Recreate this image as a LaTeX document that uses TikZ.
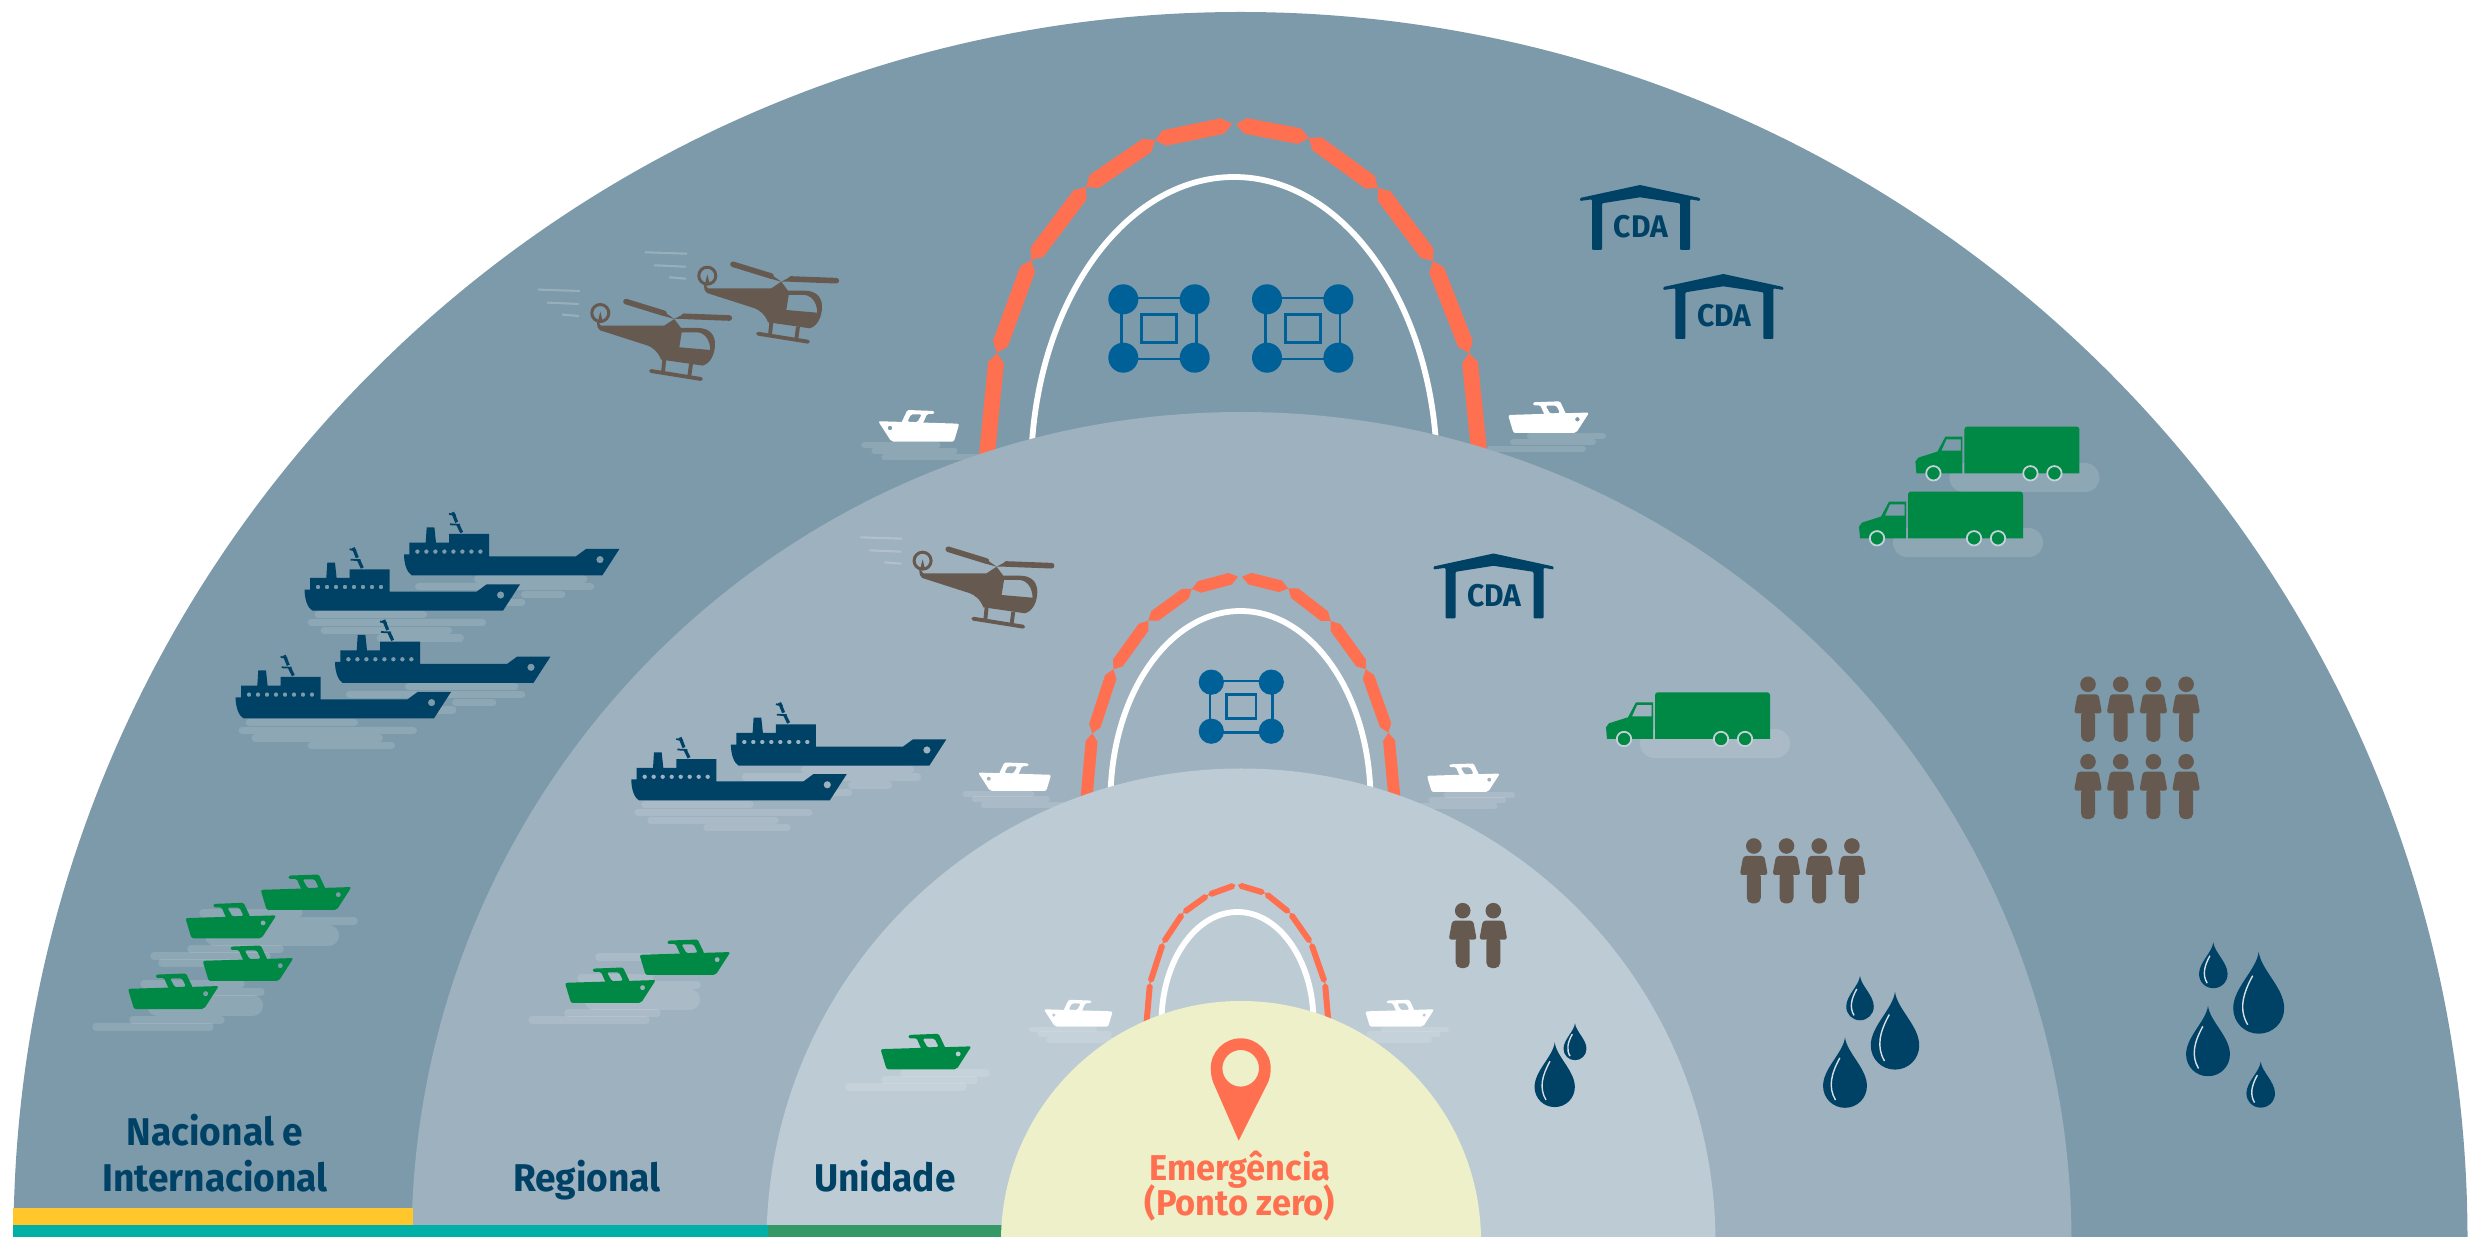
\documentclass[tikz,border=0pt]{standalone}
\usepackage{fontspec}
\setmainfont{Fira Sans}[FakeStretch=0.96]
\usetikzlibrary{calc}
\definecolor{outerblue}{HTML}{7D9AAB}
\definecolor{midblue}{HTML}{9EB1BF}
\definecolor{innerblue}{HTML}{BDCCD4}
\definecolor{zerocol}{HTML}{EEF0CA}
\definecolor{boomcol}{HTML}{FF7050}
\definecolor{navycol}{HTML}{004166}
\definecolor{browncol}{HTML}{665A50}
\definecolor{greencol}{HTML}{008845}
\definecolor{dronecol}{HTML}{006199}
\definecolor{yellowbar}{HTML}{FFC72C}
\definecolor{tealbar}{HTML}{00B0A6}
\definecolor{greenbar}{HTML}{339966}
\newcommand{\boomseg}[4]{%
  \coordinate (a) at (#1);
  \coordinate (b) at (#2);
  \coordinate (p) at ($(a)!#3!(b)$);
  \coordinate (q) at ($(b)!#3!(a)$);
  \fill[boomcol] (a)--($(p)!#4!90:(b)$)--($(q)!#4!-90:(a)$)--(b)--($(q)!#4!90:(a)$)--($(p)!#4!-90:(b)$)--cycle;}
\tikzset{
  water/.style={white,opacity=.13,line width=2.07pt,line cap=round},
  bigwater/.style={white,opacity=.13,line width=6pt,line cap=round},
  whitearch/.style={white,line width=1.65pt},
  lbl/.style={font=\fontsize{11}{12.8}\selectfont\bfseries,text=navycol,anchor=base,inner sep=0pt},
  zerolbl/.style={font=\fontsize{10.2}{10}\selectfont\bfseries,text=boomcol,anchor=base,inner sep=0pt},
  pics/boat/.style={code={
    \fill[#1,even odd rule,rounded corners=.6pt](-13.2,-20.5)--(67.9,-18)--(62.5,0)--(0,0)--cycle (-1.4,-13.7) circle [radius=2.3];
    \fill[#1,even odd rule,rounded corners=.4pt](10,-19)--(16,-31.7)--(42.9,-30.7)--(42.9,-27.7)--(35.7,-27.7)--(31.4,-18)--cycle
      (16,-20)--(19.6,-27.3)--(30.4,-27.3)--(26,-19.5)--cycle;
  }},
  pics/boatwater/.style={code={
    \foreach \xa/\xb/\ya in {-27/46/3.3,-17/63/9,-7/86/15.7}{\draw[water,line width=1.7pt](\xa,\ya)--(\xb,\ya);}
  }},
  pics/ship/.style={code={
    \fill[navycol,even odd rule](-7.7,-21)--(-2.3,-21)--(-2.3,-32.7)--(14,-32.7)--(15,-48)--(22.7,-48)--(24.3,-32.7)--(37.3,-32.7)--(37.3,-41.3)--(77.3,-41.3)--(77.3,-19)--(164.3,-19)--(174.3,-26.3)--(207.7,-26.3)--(190.7,0)--(0,0) .. controls (-5,-3) and (-7.7,-12) .. (-7.7,-21)--cycle
      (188.3,-15.7) circle [radius=3.7]
      \foreach \i in {0,...,7}{(5.7+9*\i,-23.7) circle [radius=2.3]};
    \draw[navycol,line width=.9pt](50,-42.7)--(46,-51) (45,-53)--(41,-63);
    \draw[navycol,line width=.5pt](38.3,-51)--(48.3,-50.5) (37.3,-61.5)--(44,-60);
  }},
  pics/waterone/.style={code={
    \foreach \xa/\xb/\ya in {6/111/4,-1/170/12,12/136/19.7,68/148/27.3}{\draw[water](\xa,\ya)--(\xb,\ya);}
  }},
  pics/watertwo/.style={code={
    \foreach \xa/\xb/\ya in {66/172/3.7,7/179/11.3,113/150/19.3,95/110/27}{\draw[water](\xa,\ya)--(\xb,\ya);}
  }},
  pics/heli/.style={code={
    \foreach \ya/\xa/\xb in {-27/-138/-96,-14/-129/-97,-2/-114/-97}{\draw[white,opacity=.2,line width=.6pt](\xa,\ya-.7)--(\xb,\ya+.7);}
    \draw[browncol,line width=.85pt](-75.7,-4.3) circle [radius=8.5];
    \fill[browncol](-75.7,-5.7)--(-78.3,5)--(-73,5)--cycle;
    \fill[browncol,even odd rule](-79,3)--(-75,8.3)--(-11.7,8.3)--(-1.7,1.7)--(5,10.7)--(21.7,10.7) .. controls (34,10.7) and (39,18) .. (39,26.7) .. controls (39,36) and (35,46) .. (26.7,48.3)--(-15,42.3) .. controls (-18,34) and (-24,30) .. (-28.3,28.3)--(-76,13) .. controls (-78,12) and (-79,10) .. (-79,3)--cycle
      (5.7,15)--(21.7,15) .. controls (30,16) and (34,24) .. (34.3,32.7)--(3.3,30)--cycle;
    \draw[browncol,line width=1.6pt,line cap=round](-50,-15.7)--(-12,-4);
    \fill[browncol](-14,-7)--(-1.7,1.7)--(-13,-1.5)--cycle;
    \draw[browncol,line width=1.6pt,line cap=round](8,-1)--(53.3,.7);
    \fill[browncol](-1.7,1.7)--(8,-3.5)--(8,1.5)--cycle;
    \draw[browncol,line width=1.1pt,line cap=round](-25,53.7)--(25,61.7);
    \draw[browncol,line width=1.1pt](-11.7,42.3)--(-13,55) (15,46.7)--(13.3,59);
  }},
  pics/truck/.style={code={
    \draw[water,line width=8.25pt](-.5,4.5)--(120.5,4.5);
    \fill[greencol](0,0){[rounded corners=.8pt]--(0,-46.7)--(115,-46.7)}--(115,0)--cycle;
    \fill[greencol,even odd rule](-2,0)--(-2,-36.7)--(-19,-36.7)--(-27,-21.7)--(-46,-15.7)--(-49,-11.7)--(-48,0)--cycle
      (-3.5,-34)--(-18,-34)--(-23,-22.7)--(-3.5,-22.7)--cycle;
    \foreach \xa in {-31,66,90}{\filldraw[fill=greencol,draw=white!55!outerblue,line width=.5pt](\xa,0) circle [radius=7.2];}
  }},
  pics/cda/.style={code={
    \fill[navycol,rounded corners=.3pt](-60,13)--(0,0)--(60,13)--(60,16)--(50,14.3)--(50,65)--(40,65)--(40,18.3)--(0,12.3)--(-38,18.3)--(-38,65)--(-48,65)--(-48,14.3)--(-60,16)--cycle;
    \node[font=\fontsize{8.9}{10}\selectfont\bfseries,text=navycol,inner sep=0pt] (-lab) at (1,42) {CDA};
  }},
  pics/drone/.style={code={
    \draw[dronecol,line width=.8pt](-37.3,-30.5) rectangle (37.3,30.5);
    \draw[dronecol,line width=.8pt](-17.5,-14.3) rectangle (17.5,14.3);
    \foreach \xa/\ya in {-35.7/-29.2,35.7/-29.2,-35.7/29.2,35.7/29.2}{\fill[dronecol](\xa,\ya) circle [radius=15];}
  }},
  pics/person/.style={code={
    \fill[browncol](0,0) circle [radius=7.8];
    \fill[browncol,rounded corners=.8pt](-10.5,10)--(10.5,10)--(14,29)--(-14,29)--cycle;
    \fill[browncol,rounded corners=1.6pt](-7,25)--(7,25)--(7,57.5)--(-7,57.5)--cycle;
  }},
  pics/drop/.style={code={
    \fill[navycol](0,0) .. controls (2,18) and (25.5,36) .. (25.5,56.5) .. controls (25.5,71) and (14,82) .. (0,82) .. controls (-14,82) and (-25.5,71) .. (-25.5,56.5) .. controls (-25.5,36) and (-2,18) .. (0,0)--cycle;
    \draw[white!60!midblue,line width=.4pt](-6,24) .. controls (-16,42) and (-20,58) .. (-11,73);
  }},
}
\begin{document}
\begin{tikzpicture}[x=0.01cm,y=-0.01cm]
        \useasboundingbox(0,0)rectangle(2481,1237);
        \clip(0,0)rectangle(2481,1237);

        \fill[outerblue](1240.5,1239)circle[radius=1227];
        \foreach \ax/\ay/\bx/\by in {1232/124/1155/140,1155/140/1086/187,1086/187/1031/260,1031/260/997/353,997/353/985/475,1236/124/1309/138,1309/138/1378/188,1378/188/1433/261,1433/261/1469/353,1469/353/1481/470}{\boomseg{\ax,\ay}{\bx,\by}{2.8pt}{2.25pt}}
        \draw[whitearch](1234,472)ellipse[x radius=203,y radius=295];
        \pic at (1159,328.5){drone};
        \pic at (1302.7,328.5){drone};
        \pic at (676,317.3){heli};
        \pic at (783,280){heli};
        \pic at (891.4,441.7){boatwater};
        \pic at (891.4,441.7){boat=white};
        \pic[xscale=-1] at (1576,433){boatwater};
        \pic[xscale=-1] at (1576,433){boat=white};
        \pic at (1640,185){cda};
        \pic at (1723.3,274){cda};
        \pic at (1964.4,473.3){truck};
        \pic at (1908,538.3){truck};
        \pic at (411.7,575.3){watertwo};
        \pic at (411.7,575.3){ship};
        \pic at (312.3,610.7){waterone};
        \pic at (312.3,610.7){ship};
        \pic at (342.7,683){watertwo};
        \pic at (342.7,683){ship};
        \pic at (243.3,718.3){waterone};
        \pic at (243.3,718.3){ship};
        \foreach \ya in {684.3,761.7}{\foreach \xa in {2088,2120.7,2153.4,2186.1}{\pic at (\xa,\ya){person};}}
        \pic[scale=.56] at (2213.3,942.3){drop};
        \pic at (2258.7,951.7){drop};
        \pic[scale=.86] at (2208,1005.7){drop};
        \pic[scale=.56] at (2260.7,1061.7){drop};
        \foreach \xa/\xb/\ya in {203/299/913,244/354/921,191/280/949,154/267/956,162/250/963,144/241/984,210/261/992,133/221/1020,96/210/1027}{\draw[water](\xa,\ya)--(\xb,\ya);}
        \draw[bigwater](215.5,935.5)--(328.5,935.5);
        \draw[bigwater](157.5,1005.5)--(252.5,1005.5);
        \pic[xscale=-1,scale=1.12] at (336.7,910){boat=greencol};
        \pic[xscale=-1,scale=1.12] at (261.5,938.3){boat=greencol};
        \pic[xscale=-1,scale=1.12] at (278.7,981){boat=greencol};
        \pic[xscale=-1,scale=1.12] at (204,1009){boat=greencol};

        \fill[midblue](1241.5,1242)circle[radius=830];
        \foreach \ax/\ay/\bx/\by in {1238/576.7/1191.7/589,1191.7/589/1148.3/620.7,1148.3/620.7/1113.3/669.3,1113.3/669.3/1092.3/733.3,1092.3/733.3/1085/815,1242/576.7/1288.3/588.3,1288.3/588.3/1330.7/621,1330.7/621/1365.7/669.3,1365.7/669.3/1388.3/732.7,1388.3/732.7/1396/815}{\boomseg{\ax,\ay}{\bx,\by}{2.3pt}{1.7pt}}
        \draw[whitearch](1240.5,800)ellipse[x radius=130,y radius=189];
        \pic[scale=.84] at (1241.3,706.7){drone};
        \pic at (998.3,565){heli};
        \pic[scale=.9] at (990,791){boatwater};
        \pic[scale=.9] at (990,791){boat=white};
        \pic[xscale=-1,scale=.9] at (1488,792){boatwater};
        \pic[xscale=-1,scale=.9] at (1488,792){boat=white};
        \pic at (1493.5,553.5){cda};
        \pic at (1655,739){truck};
        \pic at (738.6,765.7){watertwo};
        \pic at (738.6,765.7){ship};
        \pic at (639,800.5){waterone};
        \pic at (639,800.5){ship};
        \foreach \xa in {1753.8,1786.5,1819.2,1851.9}{\pic at (\xa,846){person};}
        \pic[scale=.54] at (1860,976){drop};
        \pic[scale=.95] at (1895,991.7){drop};
        \pic[scale=.86] at (1845,1037.3){drop};
        \foreach \xa/\xb/\ya in {599/650/957,581/650/978,650/697/985,568/657/1013,532/646/1020}{\draw[water](\xa,\ya)--(\xb,\ya);}
        \draw[bigwater](594.5,999.5)--(689.5,999.5);
        \pic[xscale=-1,scale=1.12] at (715.6,975){boat=greencol};
        \pic[xscale=-1,scale=1.12] at (641,1003){boat=greencol};

        \fill[innerblue](1241,1243)circle[radius=474.5];
        \foreach \ax/\ay/\bx/\by in {1235.5/885/1208/895,1208/895/1183/913,1183/913/1163/943,1163/943/1150/983,1150/983/1145/1040,1238/885/1265/893,1265/893/1290/913,1290/913/1311/943,1311/943/1325/983,1325/983/1330/1040}{\boomseg{\ax,\ay}{\bx,\by}{.85pt}{.85pt}}
        \draw[whitearch](1237.5,1022)ellipse[x radius=76,y radius=110];
        \pic[scale=.85] at (1055,1026.7){boatwater};
        \pic[scale=.85] at (1055,1026.7){boat=white};
        \pic[xscale=-1,scale=.85] at (1423,1026.7){boatwater};
        \pic[xscale=-1,scale=.85] at (1423,1026.7){boat=white};
        \pic at (1462.7,910.7){person};
        \pic at (1493.3,910.7){person};
        \pic[scale=.79] at (1554.7,1042.3){drop};
        \pic[scale=.45] at (1575,1023.3){drop};
        \foreach \xa/\xb/\ya in {904/986/1073,885/974/1080,849/963/1087}{\draw[water](\xa,\ya)--(\xb,\ya);}
        \pic[xscale=-1,scale=1.12] at (956.6,1069.3){boat=greencol};

        \fill[yellowbar](13,1208)rectangle(413,1225);
        \fill[tealbar](13,1225)rectangle(768,1237);
        \fill[greenbar](768,1225)rectangle(1002,1237);
        \fill[zerocol](1241,1241)circle[radius=240];

        \fill[boomcol,even odd rule](1238.7,1140.7)--(1213.3,1082.7) .. controls (1211.5,1078) and (1210.7,1073) .. (1210.7,1068.3) .. controls (1210.7,1051.8) and (1224.2,1038.3) .. (1240.7,1038.3) .. controls (1257.2,1038.3) and (1270.7,1051.8) .. (1270.7,1068.3) .. controls (1270.7,1073) and (1269.9,1077.5) .. (1268.3,1081.7)--cycle (1240.7,1068.3)circle[radius=18.3];

        \node[lbl](nacional)at(215,1146){Nacional e};
        \node[lbl](internacional)at(215,1191.7){Internacional};
        \node[lbl](regional)at(587,1191.7){Regional};
        \node[lbl](unidade)at(885,1191.7){Unidade};
        \node[zerolbl](zero)at(1240,1180){Emergência};
        \node[zerolbl](ponto)at(1240,1215){(Ponto zero)};
    \end{tikzpicture}
\end{document}
